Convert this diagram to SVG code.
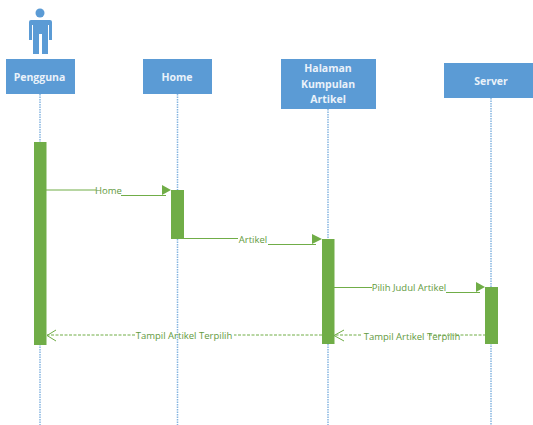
<svg xmlns="http://www.w3.org/2000/svg" width="533" height="425" viewBox="0 0 533 425">
<style>
.box{fill:#5b9bd5}
.life{stroke:#5b9bd5;stroke-width:1.5;stroke-dasharray:1.5 1;stroke-opacity:.75;fill:none}
.act{fill:#70ad47}
.msg{stroke:#70ad47;stroke-width:1;fill:none}
.ret{stroke:#70ad47;stroke-width:1;stroke-dasharray:3 1.5;fill:none}
.open{stroke:#70ad47;stroke-width:1;fill:none}
.head{fill:#70ad47}
.t{font-family:"Open Sans","Noto Sans",sans-serif;font-size:10.5px;font-weight:700;fill:#eaf2fa;text-anchor:middle}
.l{font-family:"Open Sans","Noto Sans",sans-serif;font-size:9.5px;fill:#639a3e;text-anchor:middle}
</style>
<g id="connectors">
<line class="life" x1="40" y1="94" x2="40" y2="425"/>
<line class="life" x1="177.500" y1="94" x2="177.500" y2="425"/>
<line class="life" x1="328" y1="109" x2="328" y2="425"/>
<line class="life" x1="491" y1="98" x2="491" y2="425"/>
<path class="msg" d="M46 190H96M121 195.500H166"/>
<polygon class="head" points="162,185 171,190 162,195"/>
<path class="msg" d="M184 238.500H238M268 244.500H316"/>
<polygon class="head" points="312,234 322,239 312,244"/>
<path class="msg" d="M334 287.500H372M446 292.500H480"/>
<polygon class="head" points="476,282 485,287 476,292"/>
<path class="ret" d="M486 335H427M361 335H335"/>
<path class="open" d="M344 330L334 335.500L344 341"/>
<path class="ret" d="M322 335H234M135 335H47"/>
<path class="open" d="M56 330L47 335.500L56 341"/>
</g>
<g id="actor">
<circle cx="40" cy="13" r="4.500" fill="#5b9bd5"/>
<path class="box" d="M31 20H50Q52 20 52 22V40H49V25H48V54H42V34H39V54H33V25H32V40H29V22Q29 20 31 20Z"/>
</g>
<g id="pengguna"><rect class="box" x="6" y="59" width="69" height="35"/><text class="t" x="39.500" y="81">Pengguna</text></g>
<g id="home"><rect class="box" x="143" y="59" width="69" height="35"/><text class="t" x="177" y="81">Home</text></g>
<g id="halaman"><rect class="box" x="281" y="59" width="95" height="50"/><text class="t" x="328" y="72">Halaman</text><text class="t" x="328" y="88">Kumpulan</text><text class="t" x="328" y="103">Artikel</text></g>
<g id="server"><rect class="box" x="444" y="63" width="89" height="35"/><text class="t" x="491" y="85">Server</text></g>
<g id="activations">
<rect class="act" x="34" y="142" width="12.500" height="203"/>
<rect class="act" x="171" y="190" width="13" height="49"/>
<rect class="act" x="322" y="239" width="12.500" height="105"/>
<rect class="act" x="485" y="287" width="13" height="57"/>
</g>
<g id="labels">
<text class="l" x="108.500" y="194">Home</text>
<text class="l" x="253" y="243">Artikel</text>
<text class="l" x="409" y="291">Pilih Judul Artikel</text>
<text class="l" x="412" y="340">Tampil Artikel Terpilih</text>
<text class="l" x="184" y="339">Tampil Artikel Terpilih</text>
</g>
</svg>
